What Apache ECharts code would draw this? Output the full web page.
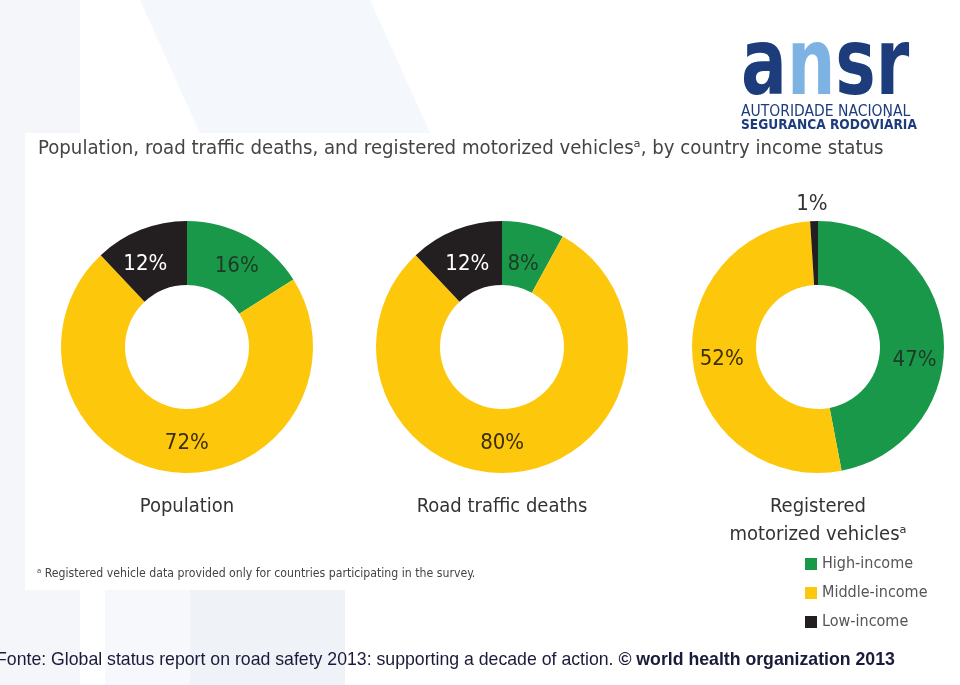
<!DOCTYPE html>
<html>
<head>
<meta charset="utf-8">
<script src="https://cdn.jsdelivr.net/npm/echarts@6/dist/echarts.min.js"></script>
<style>
  html, body { margin: 0; padding: 0; background: #fff; }
  #chart { width: 960px; height: 685px; }
</style>
</head>
<body>
<div id="chart"></div>
<script>
// income groups, clockwise from 12 o'clock
const incomeGroups = ['High-income', 'Middle-income', 'Low-income'];
const groupColors = ['#19984a', '#fdc70c', '#231f20'];
const labelColors = ['#1e3a26', '#3a2f08', '#ffffff'];

const population = [16, 72, 12];
const roadDeaths = [8, 80, 12];
const vehicles = [47, 52, 1];

const panelNames = ['Population', 'Road traffic deaths', 'Registered\nmotorized vehiclesᵃ'];
const panelCenters = [[187, 347], [502, 347], [818, 347]];

// nudges so the percentage labels sit where the original puts them
const labelNudges = [
  [[3, 4], [12, 0], [-6, 7]],
  [[-3, 11], [-12, 0], [1, 7]],
  [[0, 22], [0, 0], [-3, -46]],
];

const condensed = '"DejaVu Sans Condensed", "Liberation Sans Narrow", sans-serif';
const arial = '"Liberation Sans", Arial, sans-serif';

const chart = echarts.init(document.getElementById('chart'));

function pieData(values, k) {
  return values.map((v, i) => ({
    name: incomeGroups[i],
    value: v,
    itemStyle: { color: groupColors[i] },
    label: {
      color: k === 2 && i === 2 ? '#333' : labelColors[i],
      offset: labelNudges[k][i],
    },
  }));
}

const pieSeries = [population, roadDeaths, vehicles].map((values, k) => ({
  type: 'pie',
  name: panelNames[k],
  center: panelCenters[k],
  radius: [62, 126],
  startAngle: 90,
  clockwise: true,
  silent: true,
  label: {
    show: true,
    position: 'inside',
    formatter: '{c}%',
    fontFamily: condensed,
    fontSize: 22,
  },
  labelLine: { show: false },
  data: pieData(values, k),
}));

const captions = panelNames.map((name, k) => ({
  text: name,
  left: panelCenters[k][0] - 5,
  top: 488,
  textAlign: 'center',
  textStyle: {
    fontFamily: condensed,
    fontWeight: 'normal',
    fontSize: 20,
    lineHeight: 28,
    color: '#333',
  },
}));

chart.setOption({
  backgroundColor: '#ffffff',
  title: captions,
  legend: {
    orient: 'vertical',
    left: 800,
    top: 551,
    itemWidth: 12,
    itemHeight: 12,
    itemGap: 13,
    icon: 'rect',
    data: incomeGroups,
    textStyle: { fontFamily: condensed, fontSize: 16, color: '#555' },
  },
  graphic: [
    // faint background shapes
    { type: 'rect', z: -10, shape: { x: 0, y: 0, width: 80, height: 685 }, style: { fill: '#f4f6fa' } },
    { type: 'polygon', z: -10, shape: { points: [[140, 0], [370, 0], [430, 133], [200, 133]] }, style: { fill: '#f4f7fb' } },
    { type: 'rect', z: -10, shape: { x: 190, y: 590, width: 155, height: 95 }, style: { fill: '#eff3f8' } },
    { type: 'rect', z: -10, shape: { x: 105, y: 590, width: 85, height: 95 }, style: { fill: '#f6f8fb' } },
    { type: 'rect', z: -9, shape: { x: 25, y: 133, width: 880, height: 457 }, style: { fill: '#ffffff' } },
    // logo
    {
      type: 'text', x: 741, y: 116, scaleY: 1.37,
      style: {
        text: '{d|a}{l|n}{d|sr}',
        verticalAlign: 'bottom',
        rich: {
          d: { fontFamily: '"DejaVu Sans", sans-serif', fontWeight: 'bold', fontSize: 68, fill: '#1d3c7c' },
          l: { fontFamily: '"DejaVu Sans", sans-serif', fontWeight: 'bold', fontSize: 68, fill: '#7db3e3' },
        },
      },
    },
    {
      type: 'text', left: 741, top: 104,
      style: { text: 'AUTORIDADE NACIONAL', fontFamily: condensed, fontSize: 15.5, fill: '#1d3c7c' },
    },
    {
      type: 'text', left: 741, top: 118,
      style: { text: 'SEGURANCA RODOVIÁRIA', fontFamily: condensed, fontWeight: 'bold', fontSize: 13.6, fill: '#1d3c7c' },
    },
    // main heading
    {
      type: 'text', left: 38, top: 139,
      style: {
        text: 'Population, road traffic deaths, and registered motorized vehiclesᵃ, by country income status',
        fontFamily: condensed, fontSize: 20.2, fill: '#444',
      },
    },
    // footnote
    {
      type: 'text', left: 37, top: 568,
      style: {
        text: 'ᵃ Registered vehicle data provided only for countries participating in the survey.',
        fontFamily: condensed, fontSize: 12.2, fill: '#444',
      },
    },
    // source line
    {
      type: 'text', left: -4, top: 651,
      style: {
        text: '{n|Fonte: Global status report on road safety 2013: supporting a decade of action. }{b|© world health organization 2013}',
        rich: {
          n: { fontFamily: arial, fontSize: 17.7, fill: '#1a1a3a' },
          b: { fontFamily: arial, fontSize: 17.7, fontWeight: 'bold', fill: '#1a1a3a' },
        },
      },
    },
  ],
  series: pieSeries,
});
</script>
</body>
</html>
